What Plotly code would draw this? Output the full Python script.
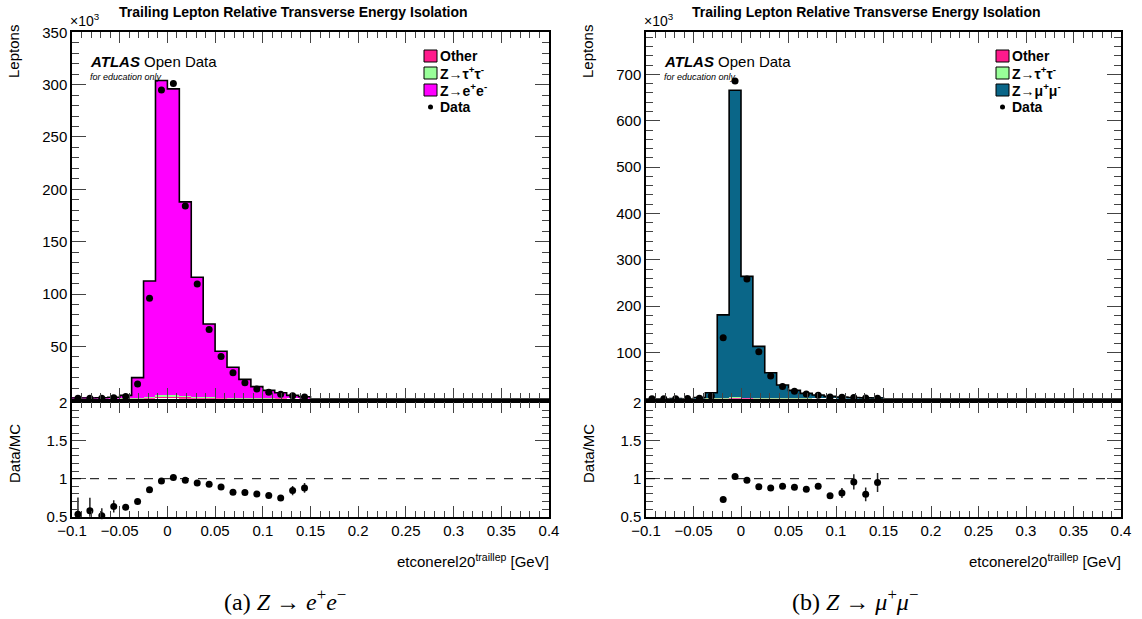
import plotly.graph_objects as go

# ---------------------------------------------------------------------------
# Binning: 40 bins of 0.0125 from -0.1 to 0.4 (only the first 20 are filled)
# ---------------------------------------------------------------------------
bin_lo = -0.1
bin_w = 0.0125
n_bins = 40

# ---- Z -> ee channel (values in units of 10^3 leptons) --------------------
other_ee = [0, 0, 0, 0, 0.1, 0.3, 0.8, 2.0, 2.2, 1.5, 0.9, 0.6, 0.4, 0.3, 0.2, 0.1, 0.1, 0.1, 0, 0]
ztautau_ee = [0, 0, 0, 0, 0.1, 0.2, 0.4, 0.9, 1.0, 0.7, 0.5, 0.3, 0.2, 0.2, 0.1, 0.1, 0.1, 0, 0, 0]
zee = [0.6, 0.7, 0.9, 1.4, 3.0, 19.6, 111.3, 301.1, 292.8, 185.8, 114.6, 70.5, 44.7, 29.5,
       18.2, 11.3, 7.8, 5.6, 3.2, 1.9]
data_ee = [0.32, 0.405, 0.46, 0.89, 2.0, 14.1, 96.0, 295.0, 301.0, 184.0, 109.5, 66.2, 40.4,
           24.7, 15.15, 9.17, 6.24, 4.25, 2.70, 1.67]
ratio_err_ee = [0.22, 0.17, 0.10, 0.08, 0.03, 0.02, 0.01, 0.005, 0.005, 0.007, 0.01, 0.01,
                0.015, 0.015, 0.02, 0.02, 0.025, 0.03, 0.06, 0.065]

# ---- Z -> mumu channel ---------------------------------------------------
other_mm = [0, 0, 0, 0, 0, 0.1, 0.5, 1.5, 1.0, 0.6, 0.4, 0.3, 0.2, 0.1, 0, 0, 0, 0, 0, 0]
ztautau_mm = [0, 0, 0, 0, 0, 0.1, 0.3, 0.9, 0.6, 0.4, 0.2, 0.1, 0.1, 0.1, 0, 0, 0, 0, 0, 0]
zmumu = [0, 0, 0.2, 0, 2.5, 12.8, 180.2, 663.6, 262.4, 112.0, 55.4, 29.1, 17.7, 11.3,
         8.0, 5.0, 3.6, 2.6, 1.8, 1.2]
data_mm = [0, 0, 0, 0.3, 0.8, 5.6, 131.6, 686.0, 258.2, 101.2, 49.2, 26.55, 15.97, 9.9,
           7.2, 3.88, 2.92, 2.49, 1.43, 1.14]
ratio_err_mm = [0, 0, 0, 0, 0.05, 0.03, 0.01, 0.005, 0.007, 0.01, 0.015, 0.02, 0.02, 0.03,
                0.035, 0.03, 0.065, 0.10, 0.09, 0.125]

# ---- text ------------------------------------------------------------------
plot_title = "Trailing Lepton Relative Transverse Energy Isolation"
x_title = "etconerel20<sup>traillep</sup> [GeV]"
x_tickvals = [-0.1, -0.05, 0, 0.05, 0.1, 0.15, 0.2, 0.25, 0.3, 0.35, 0.4]
x_ticktext = ["\u22120.1", "\u22120.05", "0", "0.05", "0.1", "0.15", "0.2", "0.25", "0.3", "0.35", "0.4"]
r_tickvals = [0.5, 1, 1.5, 2]
r_ticktext = ["0.5", "1", "1.5", "2"]
ee_tickvals = [0, 50, 100, 150, 200, 250, 300, 350]
mm_tickvals = [0, 100, 200, 300, 400, 500, 600, 700]
captions = ["(a) <i>Z</i> \u2192 <i>e</i><sup>+</sup><i>e</i><sup>\u2212</sup>",
            "(b) <i>Z</i> \u2192 <i>\u03bc</i><sup>+</sup><i>\u03bc</i><sup>\u2212</sup>"]

C_OTHER = "#ff1a8c"
C_ZTT = "#99ff99"
C_ZEE = "#ff00ff"
C_ZMM = "#0a6688"

W, H = 1142, 619
SANS = "Liberation Sans, Arial, sans-serif"
SERIF = "Liberation Serif, Times New Roman, serif"


def px(x):
    return x / W


def py(y):
    return 1 - y / H


def pad(n):
    return list(n) + [0.0] * (n_bins - len(n))


edges = [bin_lo + i * bin_w for i in range(n_bins + 1)]
centers = [bin_lo + (i + 0.5) * bin_w for i in range(n_bins)]

fig = go.Figure()


def add_panel(xa, ya, xr, yr, comps, data, rerr):
    """Stacked MC histogram, data points and Data/MC ratio."""
    total = [0.0] * n_bins
    for vals, col in comps:
        v = pad(vals)
        fig.add_trace(go.Bar(x=centers, y=v, width=bin_w, marker=dict(color=col, line=dict(width=0)),
                             xaxis=xa, yaxis=ya, showlegend=False, hoverinfo="skip"))
        total = [t + a for t, a in zip(total, v)]
    # outline of the summed stack
    fig.add_trace(go.Scatter(x=edges, y=total + [total[-1]], mode="lines",
                             line=dict(color="black", width=1.6, shape="hv"),
                             xaxis=xa, yaxis=ya, showlegend=False, hoverinfo="skip"))
    d = pad(data)
    fig.add_trace(go.Scatter(x=centers[:len(data)], y=d[:len(data)], mode="markers",
                             marker=dict(color="black", size=7), cliponaxis=False,
                             xaxis=xa, yaxis=ya, showlegend=False))
    # ratio data / MC, only inside the displayed window
    rx, ry, re = [], [], []
    for i in range(len(data)):
        if total[i] > 0:
            r = d[i] / total[i]
            if 0.5 <= r <= 2:
                rx.append(centers[i])
                ry.append(r)
                re.append(rerr[i])
    fig.add_trace(go.Scatter(x=rx, y=ry, mode="markers", marker=dict(color="black", size=7),
                             error_y=dict(type="data", array=re, visible=True, color="#222",
                                          thickness=1.5, width=0),
                             cliponaxis=False, xaxis=xr, yaxis=yr, showlegend=False))
    fig.add_shape(type="line", xref=xr, yref=yr, x0=-0.1, x1=0.4, y0=1, y1=1,
                  line=dict(color="black", width=1, dash="dash"))


add_panel("x", "y", "x2", "y2", [(other_ee, C_OTHER), (ztautau_ee, C_ZTT), (zee, C_ZEE)],
          data_ee, ratio_err_ee)
add_panel("x3", "y3", "x4", "y4", [(other_mm, C_OTHER), (ztautau_mm, C_ZTT), (zmumu, C_ZMM)],
          data_mm, ratio_err_mm)

tickfont = dict(family=SANS, size=15, color="black")
frame = dict(showline=True, linecolor="black", linewidth=1.5, mirror="allticks",
             ticks="inside", showgrid=False, zeroline=False, tickfont=tickfont, automargin=False)

frames_x = [(72, 549), (646, 1121)]
top_y = (32.3, 398.7)
rat_y = (402.7, 516.7)

layout_axes = {}
for k, (x0, x1) in enumerate(frames_x):
    xt, yt, xr, yr = (["xaxis", "yaxis", "xaxis2", "yaxis2"], ["xaxis3", "yaxis3", "xaxis4", "yaxis4"])[k]
    a_top, a_rat = ("y", "y2") if k == 0 else ("y3", "y4")
    x_top, x_rat = ("x", "x2") if k == 0 else ("x3", "x4")
    xdom = [px(x0), px(x1)]
    layout_axes[xt] = dict(frame, domain=xdom, anchor=a_top, range=[-0.1, 0.4],
                           tickvals=x_tickvals, showticklabels=False, ticklen=11,
                           minor=dict(ticks="inside", ticklen=6, dtick=0.01, tick0=0, showgrid=False))
    layout_axes[xr] = dict(frame, domain=xdom, anchor=a_rat, range=[-0.1, 0.4],
                           tickvals=x_tickvals, ticktext=x_ticktext, ticklen=11,
                           minor=dict(ticks="inside", ticklen=6, dtick=0.01, tick0=0, showgrid=False))
    tv = ee_tickvals if k == 0 else mm_tickvals
    ymax = 350 if k == 0 else 791
    layout_axes[yt] = dict(frame, domain=[py(top_y[1]), py(top_y[0])], anchor=x_top, range=[0, ymax],
                           tickvals=tv, ticktext=[""] + [str(v) for v in tv[1:]], ticklen=14,
                           minor=dict(ticks="inside", ticklen=7, dtick=tv[1] / 5, tick0=0, showgrid=False))
    layout_axes[yr] = dict(frame, domain=[py(rat_y[1]), py(rat_y[0])], anchor=x_rat, range=[0.5, 2],
                           tickvals=r_tickvals, ticktext=r_ticktext, ticklen=14,
                           minor=dict(ticks="inside", ticklen=7, dtick=0.1, tick0=0, showgrid=False))


def note(text, x, y, size, xanchor="left", family=SANS, angle=0):
    return dict(text=text, x=px(x), y=py(y), xref="paper", yref="paper", xanchor=xanchor,
                yanchor="middle", showarrow=False, textangle=angle,
                font=dict(family=family, size=size, color="black"))


ann = []
legend_shapes = []
for k, (x0, x1) in enumerate(frames_x):
    cx = (x0 + x1) / 2
    ann.append(note("<b>" + plot_title + "</b>", cx - 17, 12, 14, "center"))
    ann.append(note("\u00d710<sup>3</sup>", x0 - 4, 20, 14))
    ann.append(note("Leptons", x0 - 58, 52, 15, "center", angle=-90))
    ann.append(note("Data/MC", x0 - 58, 454, 15, "center", angle=-90))
    ann.append(note(x_title, x1 + 2, 560, 15, "right"))
    ann.append(note(captions[k], 285 + 570 * k, 600, 24, "center", family=SERIF))
    ann.append(note("<b><i>ATLAS</i></b> Open Data", x0 + 16, 62, 15))
    ann.append(note("<i>for education only</i>", x0 + 16, 77, 9))
    # legend
    lx = x1 - 125
    names = ["Other", "Z\u2192\u03c4<sup>+</sup>\u03c4<sup>-</sup>",
             "Z\u2192e<sup>+</sup>e<sup>-</sup>" if k == 0 else "Z\u2192\u03bc<sup>+</sup>\u03bc<sup>-</sup>"]
    cols = [C_OTHER, C_ZTT, C_ZEE if k == 0 else C_ZMM]
    for j, (nm, col) in enumerate(zip(names, cols)):
        yc = 56 + 17 * j
        legend_shapes.append(dict(type="rect", xref="paper", yref="paper", x0=px(lx), x1=px(lx + 13),
                                  y0=py(yc + 6), y1=py(yc - 6), fillcolor=col,
                                  line=dict(color="black", width=1)))
        ann.append(note("<b>" + nm + "</b>", lx + 14, yc, 14))
    legend_shapes.append(dict(type="circle", xref="paper", yref="paper", x0=px(lx + 4), x1=px(lx + 9),
                              y0=py(107 + 2.5), y1=py(107 - 2.5), fillcolor="black",
                              line=dict(color="black", width=0)))
    ann.append(note("<b>Data</b>", lx + 14, 107, 14))

fig.update_layout(
    width=W, height=H, margin=dict(l=0, r=0, t=0, b=0),
    paper_bgcolor="white", plot_bgcolor="white",
    barmode="stack", bargap=0, showlegend=False,
    annotations=ann, **layout_axes,
)
for s in legend_shapes:
    fig.add_shape(**s)

fig.write_html("out.html")
